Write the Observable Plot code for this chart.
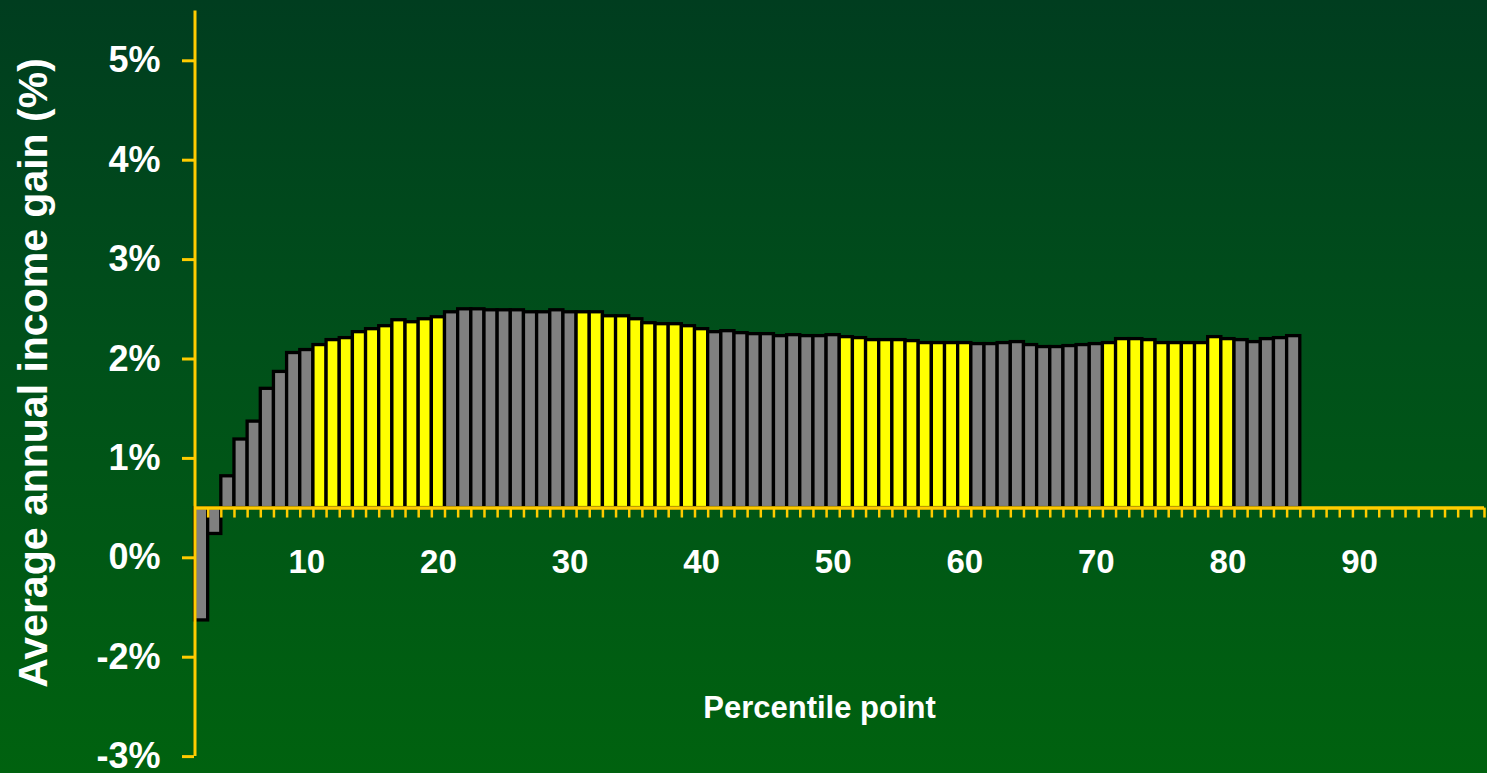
<!DOCTYPE html>
<html>
<head>
<meta charset="utf-8">
<script src="https://cdn.jsdelivr.net/npm/d3@7"></script>
<script src="https://cdn.jsdelivr.net/npm/@observablehq/plot@0.6"></script>
<style>
  html, body { margin: 0; padding: 0; background: #004f18; }
  #chart svg { display: block; }
</style>
</head>
<body>
<div id="chart"></div>
<script>
// Percentile points shown as bars (2..85)
const percentiles = [
  2, 3, 4, 5, 6, 7, 8, 9, 10,
  11, 12, 13, 14, 15, 16, 17, 18, 19, 20,
  21, 22, 23, 24, 25, 26, 27, 28, 29, 30,
  31, 32, 33, 34, 35, 36, 37, 38, 39, 40,
  41, 42, 43, 44, 45, 46, 47, 48, 49, 50,
  51, 52, 53, 54, 55, 56, 57, 58, 59, 60,
  61, 62, 63, 64, 65, 66, 67, 68, 69, 70,
  71, 72, 73, 74, 75, 76, 77, 78, 79, 80,
  81, 82, 83, 84, 85
];
// Average annual income gain (%), read against the printed tick labels
const gains = [
  -0.63, 0.24, 0.82, 1.19, 1.37, 1.70, 1.87, 2.06, 2.09,
  2.14, 2.19, 2.21, 2.27, 2.30, 2.33, 2.39, 2.37, 2.40, 2.42,
  2.47, 2.50, 2.50, 2.49, 2.49, 2.49, 2.47, 2.47, 2.49, 2.47,
  2.47, 2.47, 2.43, 2.43, 2.40, 2.36, 2.35, 2.35, 2.33, 2.30,
  2.27, 2.28, 2.26, 2.25, 2.25, 2.23, 2.24, 2.23, 2.23, 2.24,
  2.22, 2.21, 2.19, 2.19, 2.19, 2.18, 2.16, 2.16, 2.16, 2.16,
  2.15, 2.15, 2.16, 2.17, 2.14, 2.12, 2.12, 2.13, 2.14, 2.15,
  2.16, 2.20, 2.20, 2.19, 2.16, 2.16, 2.16, 2.16, 2.22, 2.20,
  2.19, 2.17, 2.20, 2.21, 2.23
];
// Bars alternate colour by decile
const decileColors = ["#808080", "#ffff00"];
// y-axis ticks and their printed labels
const yTicks = [5, 4, 3, 2, 1, 0, -1, -2];
const yTickLabels = ["5%", "4%", "3%", "2%", "1%", "0%", "-2%", "-3%"];
// x-axis labels
const xLabels = [10, 20, 30, 40, 50, 60, 70, 80, 90];
const xFirst = 1.5, xLast = 99.5;     // percentile span of the horizontal axis
const baseline = 0.5;                 // where the category axis crosses
const yTitle = "Average annual income gain (%)";
const xTitle = "Percentile point";

const gold = "#ffcc00";
const data = percentiles.map((p, i) => ({p, v: gains[i]}));
const tickBoundaries = d3.range(xFirst + 1, xLast + 0.01, 1);
const yLabelMap = new Map(yTicks.map((t, i) => [t, yTickLabels[i]]));

const plot = Plot.plot({
  width: 1487,
  height: 773,
  marginLeft: 194,
  marginRight: 3,
  marginTop: 11,
  marginBottom: 17,
  style: {
    background: "linear-gradient(180deg, #003d1f 0%, #00501a 45%, #00620f 100%)",
    fontFamily: "'Liberation Sans', Arial, Helvetica, sans-serif",
    fontWeight: "bold",
    color: "white"
  },
  x: {type: "linear", domain: [xFirst, xLast], range: [194.5, 1484], axis: null},
  y: {domain: [-2, 5.5], range: [756.1, 10.6], axis: null},
  marks: [
    Plot.rectY(data, {
      x1: d => d.p - 0.5,
      x2: d => d.p + 0.5,
      y1: baseline,
      y2: "v",
      fill: d => decileColors[Math.floor((d.p - 1) / 10) % 2],
      stroke: "black",
      strokeWidth: 3.3
    }),
    Plot.ruleY([baseline], {x1: xFirst, x2: xLast, stroke: gold, strokeWidth: 3.5}),
    Plot.ruleX(tickBoundaries, {x: d => d, y1: baseline, y2: baseline - 0.1, stroke: gold, strokeWidth: 2.5}),
    Plot.ruleX([xFirst], {y1: -2, y2: 5.5, stroke: gold, strokeWidth: 3}),
    Plot.axisY({
      ticks: yTicks,
      anchor: "left",
      tickSize: 12,
      tickPadding: 22,
      tickFormat: d => yLabelMap.get(d),
      stroke: gold,
      strokeWidth: 3,
      color: "white",
      fontSize: 36,
      label: null
    }),
    Plot.text(xLabels, {x: d => d, y: baseline, dy: 54, text: d => String(d), fill: "white", fontSize: 33}),
    Plot.text([xTitle], {frameAnchor: "bottom", textAnchor: "middle", lineAnchor: "middle", dx: -20, dy: -48, fill: "white", fontSize: 31}),
    Plot.text([yTitle], {frameAnchor: "left", textAnchor: "middle", lineAnchor: "middle", dx: -161, dy: -11, rotate: -90, fill: "white", fontSize: 41})
  ]
});
document.getElementById("chart").appendChild(plot);
</script>
</body>
</html>
